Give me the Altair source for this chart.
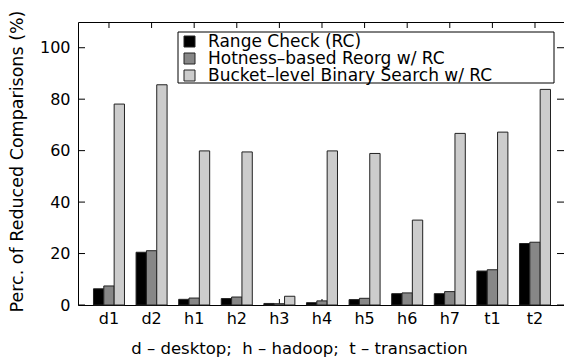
import altair as alt
import pandas as pd

# Benchmarks (d = desktop, h = hadoop, t = transaction)
traces = ["d1", "d2", "h1", "h2", "h3", "h4", "h5", "h6", "h7", "t1", "t2"]

# Percentage of reduced comparisons per scheme
range_check = [6.3, 20.5, 2.2, 2.5, 0.6, 0.9, 2.1, 4.4, 4.4, 13.2, 23.9]
hotness_reorg = [7.4, 21.1, 2.7, 3.1, 0.5, 1.6, 2.6, 4.7, 5.2, 13.7, 24.4]
bucket_search = [78.1, 85.6, 59.9, 59.5, 3.4, 59.9, 58.9, 33.0, 66.7, 67.2, 83.8]

schemes = [
    "Range Check (RC)",
    "Hotness–based Reorg w/ RC",
    "Bucket–level Binary Search w/ RC",
]
fills = ["#000000", "#878787", "#cccccc"]

y_ticks = [0, 20, 40, 60, 80, 100]

rows = []
for name, vals in zip(schemes, [range_check, hotness_reorg, bucket_search]):
    for t, v in zip(traces, vals):
        rows.append({"trace": t, "scheme": name, "value": v})
df = pd.DataFrame(rows)
trace_df = pd.DataFrame({"trace": traces})
ytick_df = pd.DataFrame({"value": y_ticks})

FONT = "DejaVu Sans"
W, H = 486, 283
TICK_X, TICK_Y = 6, 7

x_scale = alt.Scale(domain=traces, paddingInner=0.272, paddingOuter=0.34, align=0.534)
y_scale = alt.Scale(domain=[0, 110], nice=False)

x_axis = alt.Axis(
    orient="bottom",
    bandPosition=0.5,
    title="d – desktop;\u00a0 h – hadoop;\u00a0 t – transaction",
    titleFont=FONT,
    titleFontSize=16.5,
    titleFontWeight="normal",
    titleColor="black",
    titleX=221,
    titleY=48,
    titleBaseline="alphabetic",
    labelFont=FONT,
    labelFontSize=16,
    labelColor="black",
    labelAngle=0,
    labelPadding=5,
    ticks=False,
    tickSize=0,
    domain=False,
)

bars = alt.Chart(df).mark_bar(stroke="#222222", strokeWidth=1).encode(
    x=alt.X("trace:N", scale=x_scale, sort=traces, axis=x_axis),
    xOffset=alt.XOffset("scheme:N", sort=schemes, scale=alt.Scale(paddingInner=0, paddingOuter=0)),
    y=alt.Y(
        "value:Q",
        scale=y_scale,
        axis=alt.Axis(
            orient="left",
            values=y_ticks,
            title="Perc. of Reduced Comparisons (%)",
            titleFont=FONT,
            titleFontSize=17.5,
            titleFontWeight="normal",
            titleColor="black",
            titleX=-61,
            titleY=139,
            titleAngle=270,
            titleBaseline="middle",
            titleAlign="center",
            labelFont=FONT,
            labelFontSize=16,
            labelColor="black",
            labelPadding=8,
            ticks=False,
            tickSize=0,
            domain=False,
            grid=False,
        ),
    ),
    fill=alt.Fill(
        "scheme:N",
        sort=schemes,
        scale=alt.Scale(domain=schemes, range=fills),
        legend=alt.Legend(
            orient="none",
            legendX=100,
            legendY=8,
            title=None,
            padding=3,
            rowPadding=-4,
            symbolType="square",
            symbolSize=121,
            symbolStrokeColor="#222222",
            symbolStrokeWidth=1,
            labelFont=FONT,
            labelFontSize=17,
            labelColor="black",
            labelOffset=10,
            labelLimit=500,
        ),
    ),
)

# Legend frame
legend_box = alt.Chart(trace_df.head(1)).mark_rect(
    fill="white", stroke="black", strokeWidth=1
).encode(
    x=alt.value(100), x2=alt.value(476), y=alt.value(10), y2=alt.value(61)
)

# Inward-pointing ticks along the frame
band_x = alt.X("trace:N", scale=x_scale, sort=traces, bandPosition=0.5, axis=x_axis)
bottom_ticks = alt.Chart(trace_df).mark_rule(color="black", strokeWidth=1).encode(
    x=band_x, y=alt.value(H - TICK_X), y2=alt.value(H)
)
top_ticks = alt.Chart(trace_df).mark_rule(color="black", strokeWidth=1).encode(
    x=band_x, y=alt.value(0), y2=alt.value(TICK_X)
)
left_ticks = alt.Chart(ytick_df).mark_rule(color="black", strokeWidth=1).encode(
    y=alt.Y("value:Q", scale=y_scale), x=alt.value(0), x2=alt.value(TICK_Y)
)
right_ticks = alt.Chart(ytick_df).mark_rule(color="black", strokeWidth=1).encode(
    y=alt.Y("value:Q", scale=y_scale), x=alt.value(W - TICK_Y), x2=alt.value(W)
)

chart = (
    alt.layer(bottom_ticks, bars, top_ticks, left_ticks, right_ticks, legend_box)
    .properties(
        width=W,
        height=H,
        autosize=alt.AutoSizeParams(type="none"),
        padding={"left": 78, "top": 22, "right": 0, "bottom": 55},
        background="white",
    )
    .configure_view(stroke="black", strokeWidth=1)
)

chart.save("out.html", embed_options={"renderer": "svg", "actions": False})
